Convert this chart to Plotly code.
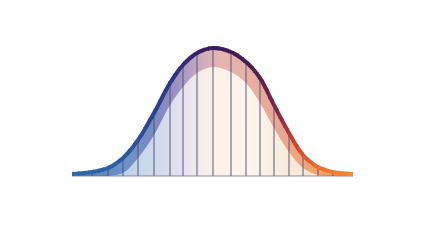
import plotly.graph_objects as go

# ---- data (x in px, heights above baseline in px) ----
x_pos = [72, 92, 108, 123, 138, 154, 170, 183, 197, 213, 231, 246, 260, 274, 289, 303, 318, 333, 353]
outer_h = [2, 4, 8, 18, 36, 63, 93, 111, 123, 128, 124, 114, 98, 71, 43, 21, 9, 4, 2]
inner_x = [108, 123, 138, 154, 170, 183, 197, 213, 231, 246, 260, 274, 289, 303, 318, 333]
inner_h = [0, 3, 18, 41, 71, 89, 103, 109, 104, 93, 73, 48, 24, 8, 1, 0]
grid_x = x_pos[1:-1]
grid_h = outer_h[1:-1]

# ---- styles ----
W, H = 429, 240
X0, X1 = 72, 353
band_stops = [(72, '#4f84c0'), (130, '#6e92c8'), (155, '#7b88c2'), (175, '#9790c2'),
              (190, '#b6a0c2'), (205, '#d4aeba'), (220, '#e4b4b0'), (250, '#e8b0a0'),
              (280, '#e9a692'), (300, '#f0a67e'), (353, '#f7964c')]
inner_stops = [(72, '#b0cae5'), (120, '#b9d1e8'), (135, '#c2d6ea'), (160, '#d4daee'),
               (180, '#e2e0f0'), (197, '#f3ebec'), (215, '#fcf1e8'), (250, '#fcf5ec'),
               (290, '#f6ebdb'), (320, '#f3e4d0'), (353, '#f3dcc4')]
line_stops = [(72, '#2f6aa8'), (120, '#2c5c9e'), (150, '#2a4690'), (175, '#2f3180'),
              (200, '#3a1f62'), (225, '#3d1c58'), (250, '#4c1d52'), (270, '#6e2448'),
              (285, '#a0303c'), (298, '#d84a2a'), (315, '#ec6a2c'), (353, '#f68a36')]


def to_scale(stops):
    return [[(x - X0) / (X1 - X0), c] for x, c in stops]


def hex2rgb(h):
    h = h.lstrip('#')
    return [int(h[i:i + 2], 16) for i in (0, 2, 4)]


def color_at(stops, x):
    if x <= stops[0][0]:
        return stops[0][1]
    for (xa, ca), (xb, cb) in zip(stops, stops[1:]):
        if xa <= x <= xb:
            t = (x - xa) / (xb - xa)
            a, b = hex2rgb(ca), hex2rgb(cb)
            r = [round(a[i] + (b[i] - a[i]) * t) for i in range(3)]
            return 'rgb(%d,%d,%d)' % tuple(r)
    return stops[-1][1]


fig = go.Figure()

# outer band fill
fig.add_trace(go.Scatter(
    x=x_pos, y=outer_h, mode='lines', fill='tozeroy',
    line=dict(width=0, shape='spline', simplify=False),
    fillgradient=dict(type='horizontal', colorscale=to_scale(band_stops), start=X0, stop=X1),
    hoverinfo='skip', showlegend=False))

# inner light fill
fig.add_trace(go.Scatter(
    x=inner_x, y=inner_h, mode='lines', fill='tozeroy',
    line=dict(width=0, shape='spline', simplify=False),
    fillgradient=dict(type='horizontal', colorscale=to_scale(inner_stops), start=X0, stop=X1),
    hoverinfo='skip', showlegend=False))

# vertical grid lines
vx, vy = [], []
for gx, gh in zip(grid_x, grid_h):
    vx += [gx, gx, None]
    vy += [0, gh, None]
fig.add_trace(go.Scatter(x=vx, y=vy, mode='lines',
                         line=dict(color='rgba(80,78,115,0.78)', width=1.2),
                         hoverinfo='skip', showlegend=False))

# baseline
fig.add_trace(go.Scatter(x=[X0, X1], y=[0, 0], mode='lines',
                         line=dict(color='rgba(100,100,135,0.7)', width=1),
                         hoverinfo='skip', showlegend=False))

layout_axes = {}
# gradient outer line: same curve drawn in narrow clipped subplots
step = 5
xs = list(range(X0 - 4, X1 + 6, step))
for k, sx in enumerate(xs):
    ax = k + 2
    s0, s1 = sx, min(sx + step + 1, W)
    layout_axes['xaxis%d' % ax] = dict(domain=[s0 / W, s1 / W], range=[s0, s1],
                                       visible=False, anchor='y', fixedrange=True)
    fig.add_trace(go.Scatter(
        x=x_pos, y=outer_h, mode='lines', xaxis='x%d' % ax, yaxis='y',
        line=dict(color=color_at(line_stops, sx + step / 2), width=4,
                  shape='spline', simplify=False),
        hoverinfo='skip', showlegend=False))

fig.update_layout(
    width=W, height=H, margin=dict(l=0, r=0, t=0, b=0),
    paper_bgcolor='white', plot_bgcolor='rgba(0,0,0,0)',
    xaxis=dict(range=[0, W], domain=[0, 1], visible=False, fixedrange=True),
    yaxis=dict(range=[-64, 176], domain=[0, 1], visible=False, fixedrange=True),
    showlegend=False,
    **layout_axes)

fig.write_html("out.html")
